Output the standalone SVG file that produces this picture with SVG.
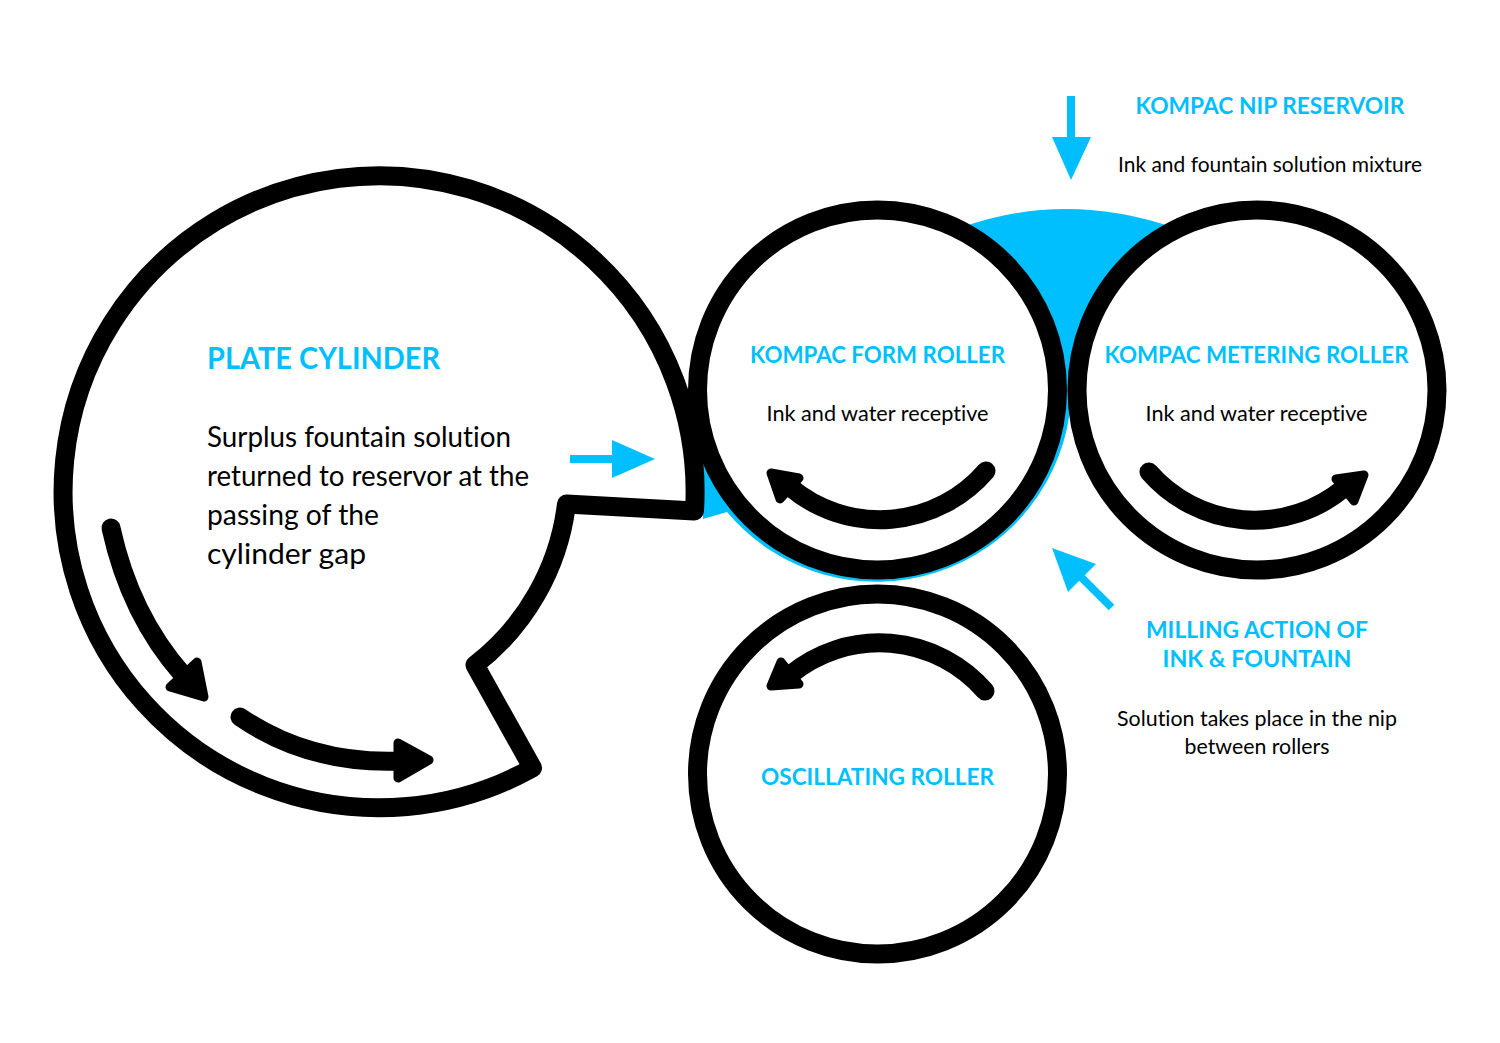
<svg xmlns="http://www.w3.org/2000/svg" width="1500" height="1043" viewBox="0 0 1500 1043">
<style>
.r{fill:#fff;stroke:#000;stroke-width:19}
.p{fill:#fff;stroke:#000;stroke-width:19;stroke-linejoin:round}
.a{fill:none;stroke:#000;stroke-width:19;stroke-linecap:round}
.h{fill:#000;stroke:#000;stroke-width:9;stroke-linejoin:round}
.b{fill:#00bfff}
.cl{stroke:#00bfff;stroke-width:8;fill:none}
text{font-family:"Lato","Open Sans","Liberation Sans",sans-serif;text-anchor:middle;font-variant-ligatures:none}
.t{fill:#00bfff;font-weight:700;font-size:23px}
.d{fill:#000;font-size:22px}
.m{text-anchor:start;font-size:29px}
.big{font-size:31px}
</style>
<rect width="1500" height="1043" fill="#fff"/>
<path id="ink" class="b" d="M960 228Q1065 190 1175 228L1071 400A195 195 0 0 1 727 512L703 519L703 460Z"/>
<g id="plate-cylinder">
<path class="p" d="M532.500 768A316 316 0 1 1 694.500 511L566.500 504A240 240 0 0 1 475 665Z"/>
<text class="t big" x="323.500" y="369" textLength="233" lengthAdjust="spacingAndGlyphs">PLATE CYLINDER</text>
<text class="d m" x="207" y="446.500" textLength="304" lengthAdjust="spacingAndGlyphs">Surplus fountain solution</text>
<text class="d m" x="207" y="486" textLength="322" lengthAdjust="spacingAndGlyphs">returned to reservor at the</text>
<text class="d m" x="207" y="525" textLength="172" lengthAdjust="spacingAndGlyphs">passing of the</text>
<text class="d m" x="207" y="564" textLength="159" lengthAdjust="spacingAndGlyphs">cylinder gap</text>
</g>
<g id="form-roller">
<circle class="r" cx="877.500" cy="390" r="180"/>
<text class="t" x="877.500" y="363" textLength="255" lengthAdjust="spacingAndGlyphs">KOMPAC FORM ROLLER</text>
<text class="d" x="877.500" y="421" textLength="222" lengthAdjust="spacingAndGlyphs">Ink and water receptive</text>
</g>
<g id="metering-roller">
<circle class="r" cx="1257" cy="390" r="180"/>
<text class="t" x="1256.500" y="363" textLength="304" lengthAdjust="spacingAndGlyphs">KOMPAC METERING ROLLER</text>
<text class="d" x="1256.500" y="421" textLength="222" lengthAdjust="spacingAndGlyphs">Ink and water receptive</text>
</g>
<g id="oscillating-roller">
<circle class="r" cx="877.500" cy="774" r="180"/>
<text class="t" x="877.500" y="785" textLength="233" lengthAdjust="spacingAndGlyphs">OSCILLATING ROLLER</text>
</g>
<g id="nip-reservoir-label">
<text class="t" x="1270" y="114" textLength="269" lengthAdjust="spacingAndGlyphs">KOMPAC NIP RESERVOIR</text>
<text class="d" x="1270" y="172" textLength="304" lengthAdjust="spacingAndGlyphs">Ink and fountain solution mixture</text>
</g>
<g id="milling-label">
<text class="t" x="1257" y="637.500" textLength="222" lengthAdjust="spacingAndGlyphs">MILLING ACTION OF</text>
<text class="t" x="1257" y="666.500" textLength="189" lengthAdjust="spacingAndGlyphs">INK &amp; FOUNTAIN</text>
<text class="d" x="1257" y="725.500" textLength="280" lengthAdjust="spacingAndGlyphs">Solution takes place in the nip</text>
<text class="d" x="1257" y="754" textLength="145" lengthAdjust="spacingAndGlyphs">between rollers</text>
</g>
<g id="connectors">
<path class="a" d="M111 528Q130 615 183 675"/>
<path class="h" d="M197 662L204 697L170 687Z"/>
<path class="a" d="M240 717Q310 765 402 761"/>
<path class="h" d="M398 743L429 760L398 778Z"/>
<path class="a" d="M986 471A140 140 0 0 1 790 487"/>
<path class="h" d="M771 473L799 478L780 499Z"/>
<path class="a" d="M1149 472A140 140 0 0 0 1344 488"/>
<path class="h" d="M1364 475L1336 479L1354 501Z"/>
<path class="a" d="M985 691A140 140 0 0 0 790 675"/>
<path class="h" d="M771 686L781 662L799 684Z"/>
<path class="cl" d="M1071 96V140"/>
<path class="b" d="M1052 137H1091L1071 180Z"/>
<path class="cl" d="M570 459H615"/>
<path class="b" d="M612 440L655 459L612 478Z"/>
<path class="cl" d="M1111.500 607.500L1072 568"/>
<path class="b" d="M1052 548L1096 564L1068 592Z"/>
</g>
</svg>
